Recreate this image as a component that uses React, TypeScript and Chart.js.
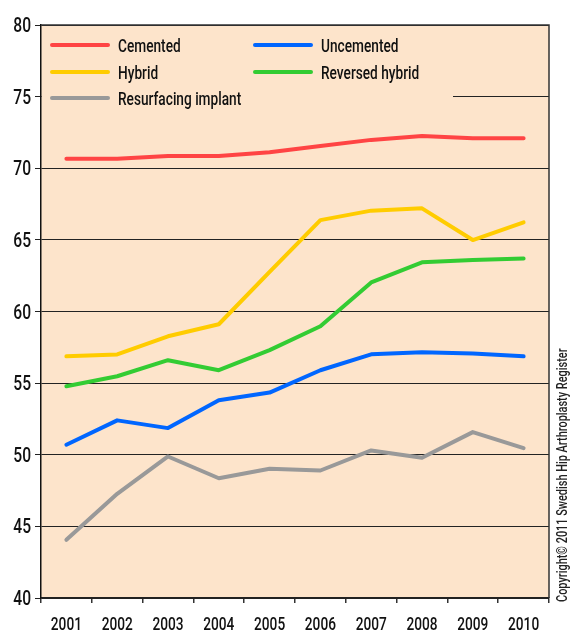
import React, { useEffect, useRef } from 'react';
import Chart from 'chart.js/auto';

const years = ['2001', '2002', '2003', '2004', '2005', '2006', '2007', '2008', '2009', '2010'];
const cemented = [70.67, 70.67, 70.86, 70.86, 71.12, 71.56, 71.98, 72.25, 72.1, 72.1];
const uncemented = [50.7, 52.4, 51.86, 53.8, 54.34, 55.9, 57.01, 57.15, 57.06, 56.87];
const hybrid = [56.87, 57.0, 58.27, 59.11, 62.77, 66.38, 67.04, 67.2, 64.99, 66.22];
const reversedHybrid = [54.78, 55.48, 56.6, 55.9, 57.3, 58.97, 62.03, 63.43, 63.59, 63.7];
const resurfacing = [44.06, 47.27, 49.88, 48.36, 49.02, 48.9, 50.3, 49.79, 51.58, 50.46];
const yTicks = [40, 45, 50, 55, 60, 65, 70, 75, 80];
const seriesNames = ['Cemented', 'Uncemented', 'Hybrid', 'Reversed hybrid', 'Resurfacing implant'];
const seriesColors = ['#FF4444', '#0066FF', '#FFCC00', '#33CC33', '#999999'];
const copyright = 'Copyright\u00A9 2011 Swedish Hip Arthroplasty Register';

const BG = '#FDE4CB';
const FONT = "Roboto, 'Liberation Sans', sans-serif";
const SX = 0.72;

function scaledText(ctx: CanvasRenderingContext2D, text: string, x: number, y: number, align: CanvasTextAlign, size: number, color: string, sx = SX) {
  ctx.save();
  ctx.translate(x, y);
  ctx.scale(sx, 1);
  ctx.font = `500 ${size}px ${FONT}`;
  ctx.fillStyle = color;
  ctx.textAlign = align;
  ctx.textBaseline = 'alphabetic';
  ctx.fillText(text, 0, 0);
  ctx.restore();
}

const decorPlugin = {
  id: 'decor',
  beforeDraw(chart: any) {
    const { ctx, chartArea: a } = chart;
    ctx.save();
    ctx.fillStyle = BG;
    ctx.fillRect(a.left, a.top, a.right - a.left, a.bottom - a.top);
    ctx.restore();
  },
  afterDatasetsDraw(chart: any) {
    const { ctx, chartArea: a } = chart;
    ctx.save();
    ctx.fillStyle = BG;
    ctx.fillRect(a.left + 1, a.top + 1, 453 - a.left - 1, 86);
    const cols = [a.left + 11, a.left + 214];
    const rows = [a.top + 20, a.top + 47, a.top + 73];
    seriesNames.forEach((name, i) => {
      const cx = cols[i % 2];
      const cy = rows[Math.floor(i / 2)];
      ctx.strokeStyle = seriesColors[i];
      ctx.lineWidth = 4;
      ctx.lineCap = 'round';
      ctx.beginPath();
      ctx.moveTo(cx, cy);
      ctx.lineTo(cx + 56, cy);
      ctx.stroke();
      scaledText(ctx, name, cx + 66, cy + 7, 'left', 19, '#111');
    });
    ctx.restore();
  },
  afterDraw(chart: any) {
    const { ctx, chartArea: a } = chart;
    const xs = chart.scales.x;
    const ys = chart.scales.y;
    ctx.save();
    ctx.strokeStyle = '#333';
    ctx.lineWidth = 1.5;
    ctx.beginPath();
    ctx.moveTo(a.left, a.top);
    ctx.lineTo(a.right, a.top);
    ctx.lineTo(a.right, a.bottom);
    ctx.stroke();
    ctx.restore();
    // y tick labels
    yTicks.forEach((v) => {
      scaledText(ctx, String(v), a.left - 10, ys.getPixelForValue(v) + 7, 'right', 20, '#111', 0.78);
    });
    // x tick labels
    years.forEach((y, i) => {
      scaledText(ctx, y, xs.getPixelForTick(i), 630, 'center', 19, '#111');
    });
    // copyright
    ctx.save();
    ctx.translate(567, 602);
    ctx.rotate(-Math.PI / 2);
    scaledText(ctx, copyright, 0, 0, 'left', 15.2, '#222');
    ctx.restore();
  },
};

export default function App() {
  const ref = useRef<HTMLCanvasElement>(null);
  useEffect(() => {
    if (!ref.current) return;
    const series = [cemented, uncemented, hybrid, reversedHybrid, resurfacing];
    const chart = new Chart(ref.current, {
      type: 'line',
      data: {
        labels: years,
        datasets: series.map((d, i) => ({
          label: seriesNames[i],
          data: d,
          borderColor: seriesColors[i],
          backgroundColor: seriesColors[i],
          borderWidth: 4,
          pointRadius: 0,
          tension: 0,
          borderCapStyle: 'round' as const,
          borderJoinStyle: 'round' as const,
          fill: false,
        })),
      },
      options: {
        responsive: false,
        animation: false,
        events: [],
        layout: { padding: { top: 25, right: 27, left: 0, bottom: 0 } },
        plugins: { legend: { display: false }, tooltip: { enabled: false }, title: { display: false } },
        scales: {
          x: {
            offset: true,
            grid: { offset: true, drawOnChartArea: false, drawTicks: true, tickLength: 5, color: '#333', lineWidth: 1.5 },
            border: { display: true, color: '#222', width: 1.5 },
            ticks: { display: false, autoSkip: false },
            afterFit: (s: any) => { s.height = 33; },
          },
          y: {
            min: 40,
            max: 80,
            afterBuildTicks: (s: any) => { s.ticks = yTicks.map((v) => ({ value: v })); },
            grid: { color: '#222', lineWidth: 1, tickLength: 6, drawTicks: true },
            border: { display: true, color: '#111', width: 1.5 },
            ticks: { display: false },
            afterFit: (s: any) => { s.width = 41; },
          },
        },
      },
      plugins: [decorPlugin],
    });
    return () => chart.destroy();
  }, []);
  return (
    <div style={{ position: 'fixed', left: 0, top: 0, width: 576, height: 631, background: '#fff' }}>
      <canvas ref={ref} width={576} height={631} style={{ display: 'block', width: 576, height: 631 }} />
    </div>
  );
}
